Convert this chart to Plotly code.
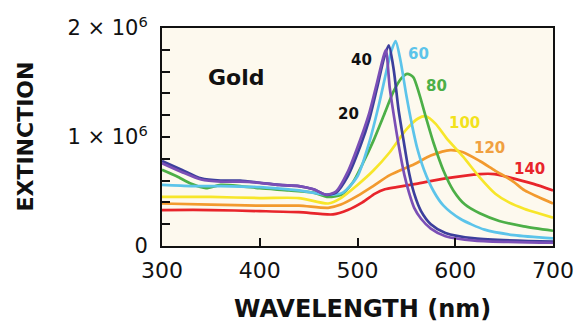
import plotly.graph_objects as go

# Extinction spectra of gold nanoparticles (extinction in units of 10^6)
wl_20 = [300, 320, 340, 360, 380, 400, 420, 440, 455, 468, 478, 490, 503, 512, 520, 526, 529,
         533, 538, 543, 548, 553, 558, 565, 575, 590, 620, 700]
ext_20 = [0.76, 0.68, 0.61, 0.59, 0.59, 0.58, 0.56, 0.55, 0.52, 0.47, 0.50, 0.68, 0.98, 1.22, 1.50, 1.72, 1.80,
          1.45, 1.15, 0.88, 0.65, 0.48, 0.35, 0.25, 0.16, 0.09, 0.05, 0.03]

wl_40 = [300, 320, 340, 360, 380, 400, 420, 440, 455, 468, 478, 490, 503, 512, 520, 527, 532,
         537, 542, 548, 553, 558, 565, 575, 590, 620, 700]
ext_40 = [0.78, 0.70, 0.62, 0.60, 0.60, 0.58, 0.56, 0.55, 0.52, 0.47, 0.49, 0.64, 0.92, 1.16, 1.45, 1.72, 1.84,
          1.62, 1.25, 0.92, 0.66, 0.48, 0.32, 0.20, 0.12, 0.07, 0.04]

wl_60 = [300, 330, 360, 400, 440, 470, 485, 500, 512, 522, 530, 535, 539, 544, 550, 556, 561,
         568, 578, 588, 605, 630, 660, 700]
ext_60 = [0.56, 0.55, 0.55, 0.54, 0.51, 0.47, 0.49, 0.64, 0.95, 1.30, 1.62, 1.80, 1.88, 1.70, 1.38, 1.10, 0.90,
          0.70, 0.50, 0.37, 0.25, 0.15, 0.10, 0.07]

wl_80 = [300, 315, 330, 345, 360, 380, 400, 430, 455, 470, 483, 495, 505, 516, 527, 537, 545, 551,
         557, 563, 570, 578, 588, 598, 610, 625, 645, 670, 700]
ext_80 = [0.70, 0.64, 0.57, 0.53, 0.56, 0.55, 0.53, 0.51, 0.49, 0.45, 0.47, 0.58, 0.75, 0.96, 1.20, 1.42, 1.54, 1.58,
          1.55, 1.40, 1.18, 0.94, 0.69, 0.51, 0.38, 0.30, 0.23, 0.18, 0.14]

wl_100 = [300, 350, 400, 440, 470, 483, 500, 516, 533, 550, 562, 570, 580, 591, 608, 625, 641,
          655, 671, 685, 700]
ext_100 = [0.45, 0.45, 0.44, 0.44, 0.39, 0.44, 0.56, 0.69, 0.86, 1.07, 1.17, 1.19, 1.12, 0.99, 0.82, 0.63, 0.48,
           0.40, 0.34, 0.30, 0.26]

wl_120 = [300, 350, 400, 440, 470, 483, 500, 516, 533, 558, 575, 595, 608, 625, 641, 658, 671, 685, 700]
ext_120 = [0.39, 0.38, 0.37, 0.37, 0.35, 0.38, 0.46, 0.55, 0.65, 0.75, 0.83, 0.88, 0.86, 0.78, 0.69, 0.60, 0.51,
           0.45, 0.39]

wl_140 = [300, 350, 400, 440, 475, 490, 505, 518, 528, 540, 560, 590, 625, 640, 655, 680, 700]
ext_140 = [0.33, 0.33, 0.32, 0.31, 0.29, 0.33, 0.40, 0.48, 0.52, 0.54, 0.57, 0.62, 0.66, 0.66, 0.63, 0.57, 0.51]

sizes = ["140", "120", "100", "80", "60", "40", "20"]
wavelengths = [wl_140, wl_120, wl_100, wl_80, wl_60, wl_40, wl_20]
extinctions = [ext_140, ext_120, ext_100, ext_80, ext_60, ext_40, ext_20]
colors = ["#e8252b", "#f29a2e", "#f7e62a", "#4caf47", "#5cc4ea", "#3c3f9c", "#7b4fb6"]

# Size labels placed next to each curve (wavelength, extinction)
label_text = ["20", "40", "60", "80", "100", "120", "140"]
label_x = [491, 504, 562, 581, 609, 635, 676]
label_y = [1.21, 1.71, 1.76, 1.47, 1.13, 0.90, 0.71]
label_colors = ["#111111", "#111111", "#5cc4ea", "#4caf47", "#f2e21c", "#f0a040", "#e8252b"]

y_tickvals = [0, 1, 2]
y_ticktext = ["0", "1 × 10<sup>6</sup>", "2 × 10<sup>6</sup>"]
x_tickvals = [300, 400, 500, 600, 700]

FONT = "DejaVu Sans"

fig = go.Figure()
for s, wl, ex, c in zip(sizes, wavelengths, extinctions, colors):
    fig.add_trace(go.Scatter(
        x=wl, y=ex, mode="lines", name=s,
        line=dict(color=c, width=2.7, shape="spline", smoothing=0.7),
        showlegend=False,
    ))

annotations = []
for t, lx, ly, lc in zip(label_text, label_x, label_y, label_colors):
    annotations.append(dict(x=lx, y=ly, xref="x", yref="y", text=t, showarrow=False,
                            font=dict(family=FONT, size=15, color=lc, weight="bold")))

annotations.append(dict(x=376, y=1.55, xref="x", yref="y", text="Gold", showarrow=False,
                        font=dict(family=FONT, size=22, color="#111111", weight="bold")))
annotations.append(dict(x=0.513, y=-0.30, xref="paper", yref="paper", yshift=-14, text="WAVELENGTH (nm)",
                        showarrow=False, font=dict(family=FONT, size=24, color="#111111", weight="bold")))
annotations.append(dict(x=-0.34, y=0.5, xref="paper", yref="paper", xshift=-19, text="EXTINCTION",
                        textangle=-90, showarrow=False,
                        font=dict(family=FONT, size=22, color="#111111", weight="bold")))

fig.update_layout(
    width=586, height=325,
    margin=dict(l=162, r=25, t=28, b=79),
    paper_bgcolor="white",
    plot_bgcolor="#fdf9ee",
    annotations=annotations,
    font=dict(family=FONT, color="#111111"),
)

fig.update_xaxes(
    range=[300, 700], tickvals=x_tickvals, ticks="inside", ticklen=8, tickwidth=2,
    tickcolor="#111111", showgrid=False, zeroline=False,
    showline=True, linecolor="#111111", linewidth=2, mirror=True,
    tickfont=dict(family=FONT, size=22, color="#111111"),
    ticklabelstandoff=4,
)
fig.update_yaxes(
    range=[0, 2], tickvals=y_tickvals, ticktext=y_ticktext, ticks="inside", ticklen=8, tickwidth=2,
    tickcolor="#111111", showgrid=False, zeroline=False,
    showline=True, linecolor="#111111", linewidth=2, mirror=True,
    tickfont=dict(family=FONT, size=21, color="#111111"),
    ticklabelstandoff=8,
    minor=dict(dtick=0.2, ticks="inside", ticklen=8, tickwidth=2, tickcolor="#111111", showgrid=False),
)

fig.write_html("out.html")
